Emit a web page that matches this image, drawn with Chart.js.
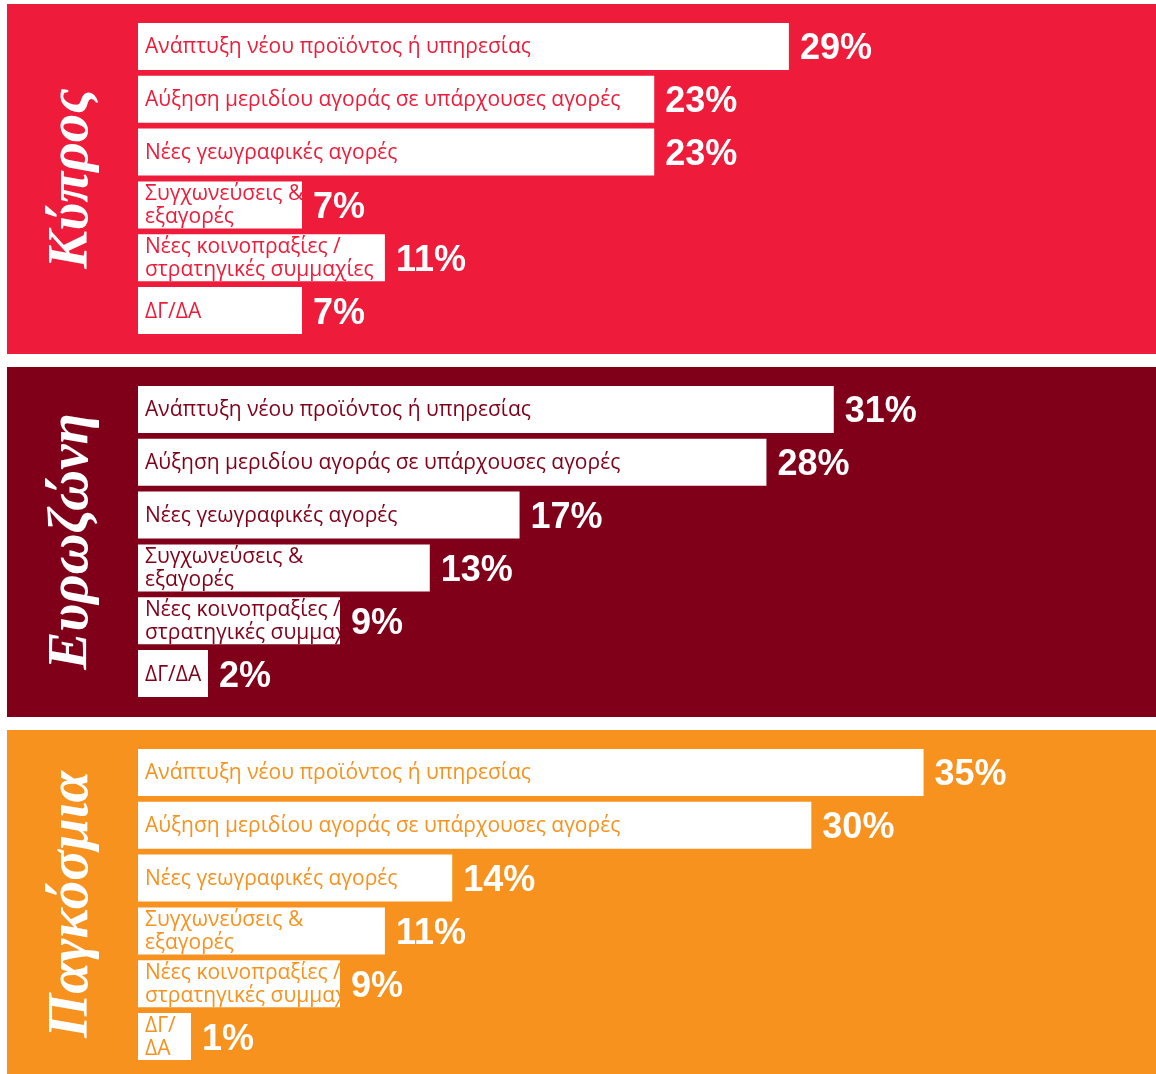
<!DOCTYPE html>
<html><head><meta charset="utf-8">
<script src="https://cdn.jsdelivr.net/npm/chart.js@4.4.1/dist/chart.umd.min.js"></script>
<style>
html,body{margin:0;padding:0;background:#fff;width:1156px;height:1074px;overflow:hidden;}
.panel{position:absolute;left:7px;width:1149px;}
.panel canvas{display:block;}
</style></head><body>
<div class="panel" id="p1" style="top:4px;height:350px;background:#EE1C3A"><canvas id="c1"></canvas></div>
<div class="panel" id="p2" style="top:367px;height:350px;background:#80001A"><canvas id="c2"></canvas></div>
<div class="panel" id="p3" style="top:730px;height:344px;background:#F7921E"><canvas id="c3"></canvas></div>
<script>
// ---- data ----
const categories = [
  ['Ανάπτυξη νέου προϊόντος ή υπηρεσίας'],
  ['Αύξηση μεριδίου αγοράς σε υπάρχουσες αγορές'],
  ['Νέες γεωγραφικές αγορές'],
  ['Συγχωνεύσεις &', 'εξαγορές'],
  ['Νέες κοινοπραξίες /', 'στρατηγικές συμμαχίες'],
  ['ΔΓ/ΔΑ']
];
const categoriesGlobal = [
  ['Ανάπτυξη νέου προϊόντος ή υπηρεσίας'],
  ['Αύξηση μεριδίου αγοράς σε υπάρχουσες αγορές'],
  ['Νέες γεωγραφικές αγορές'],
  ['Συγχωνεύσεις &', 'εξαγορές'],
  ['Νέες κοινοπραξίες /', 'στρατηγικές συμμαχίες'],
  ['ΔΓ/', 'ΔΑ']
];
const panelTitles = ['Κύπρος', 'Ευρωζώνη', 'Παγκόσμια'];
const valuesCyprus = [29, 23, 23, 7, 11, 7];
const valuesEurozone = [31, 28, 17, 13, 9, 2];
const valuesGlobal = [35, 30, 14, 11, 9, 1];

// ---- drawing ----
const barLabelPlugin = {
  id: 'barLabels',
  afterDatasetsDraw(chart, args, opts) {
    const ctx = chart.ctx;
    const meta = chart.getDatasetMeta(0);
    const labels = chart.data.labels;
    const ds = chart.data.datasets[0];
    meta.data.forEach((bar, i) => {
      const p = bar.getProps(['x', 'y', 'base', 'height'], true);
      const left = Math.min(p.base, p.x), right = Math.max(p.base, p.x);
      const top = p.y - p.height / 2;
      // category text inside bar, clipped to the bar
      ctx.save();
      ctx.beginPath();
      ctx.rect(left, top, right - left, p.height);
      ctx.clip();
      ctx.fillStyle = opts.textColor;
      ctx.font = '21px "Open Sans"';
      ctx.textAlign = 'left';
      ctx.textBaseline = 'alphabetic';
      const lines = labels[i];
      const n = lines.length;
      const lh = 23;
      lines.forEach((ln, j) => {
        const by = p.y + 7 + (j - (n - 1) / 2) * lh;
        ctx.fillText(ln, left + 7, by);
      });
      ctx.restore();
      // value label
      ctx.save();
      ctx.fillStyle = '#ffffff';
      ctx.font = 'bold 36px "Liberation Sans"';
      ctx.textAlign = 'left';
      ctx.textBaseline = 'alphabetic';
      ctx.fillText(ds.data[i] + '%', right + 11, p.y + 13);
      ctx.restore();
    });
  }
};

function makeChart(id, title, labels, values, color, padBottom, minLen) {
  return new Chart(document.getElementById(id), {
    type: 'bar',
    data: {
      labels: labels,
      datasets: [{
        data: values,
        backgroundColor: '#ffffff',
        borderWidth: 0,
        barPercentage: 0.89,
        categoryPercentage: 1,
        minBarLength: minLen
      }]
    },
    options: {
      indexAxis: 'y',
      responsive: true,
      maintainAspectRatio: false,
      animation: false,
      layout: { padding: { left: 0, right: 8, top: 16, bottom: padBottom } },
      scales: {
        x: { type: 'linear', min: 0, max: 45, display: false },
        y: { display: false }
      },
      plugins: {
        legend: { display: false },
        tooltip: { enabled: false },
        title: {
          display: true,
          position: 'left',
          text: title,
          color: '#ffffff',
          font: { family: '"Liberation Serif"', size: 57, weight: 'bold', style: 'italic', lineHeight: 1 },
          padding: { top: 37, bottom: 37 }
        },
        barLabels: { textColor: color }
      }
    },
    plugins: [barLabelPlugin]
  });
}

makeChart('c1', panelTitles[0], categories, valuesCyprus, '#EE1C3A', 17, 164);
makeChart('c2', panelTitles[1], categories, valuesEurozone, '#80001A', 17, 70);
makeChart('c3', panelTitles[2], categoriesGlobal, valuesGlobal, '#F7921E', 11, 53);
</script>
</body></html>
